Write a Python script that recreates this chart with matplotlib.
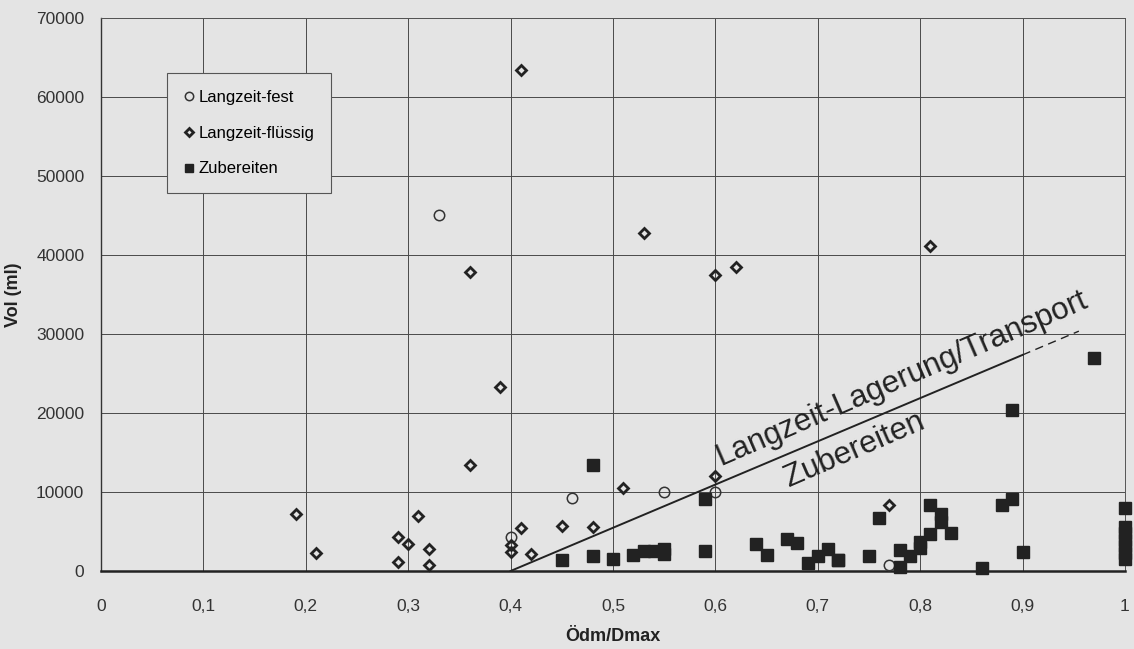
import numpy as np
import matplotlib
matplotlib.use("Agg")
import matplotlib.pyplot as plt

plt.rcParams["font.family"] = ["Liberation Sans", "DejaVu Sans"]

# Langzeit-fest (open circles)
fest_x = [0.33, 0.46, 0.55, 0.60, 0.40, 0.77]
fest_y = [45000, 9300, 10000, 10000, 4300, 700]

# Langzeit-flüssig (diamonds)
fl_x = [0.19, 0.21, 0.29, 0.30, 0.31, 0.29, 0.32, 0.32, 0.36, 0.39, 0.40, 0.40, 0.41, 0.42,
        0.45, 0.48, 0.51, 0.60, 0.41, 0.36, 0.53, 0.60, 0.62, 0.81, 0.77]
fl_y = [7200, 2300, 4300, 3400, 6900, 1100, 2800, 700, 13400, 23300, 3300, 2400, 5500, 2200,
        5700, 5600, 10500, 12000, 63400, 37900, 42800, 37500, 38500, 41100, 8400]

# Zubereiten (filled squares)
zu_x = [0.48, 0.45, 0.48, 0.50, 0.52, 0.53, 0.54, 0.55, 0.55, 0.59, 0.59, 0.64, 0.65, 0.67,
        0.68, 0.69, 0.70, 0.71, 0.72, 0.72, 0.75, 0.76, 0.78, 0.78, 0.79, 0.80, 0.80, 0.81,
        0.81, 0.82, 0.82, 0.83, 0.86, 0.88, 0.89, 0.89, 0.90, 0.97, 1.00, 1.00, 1.00, 1.00,
        1.00, 1.00, 1.00]
zu_y = [13400, 1350, 1900, 1550, 2000, 2550, 2500, 2800, 2200, 9050, 2550, 3450, 2050, 4100,
        3550, 950, 1950, 2800, 1400, 1350, 1950, 6650, 2650, 550, 1900, 3700, 2900, 8300,
        4650, 7200, 6200, 4850, 400, 8300, 9150, 20400, 2350, 27000, 8000, 5600, 4800, 3900,
        3100, 2300, 1500]

# Grenzlinie
line_x = [0.40, 0.90]
line_ext_x = [0.90, 0.955]
slope = 54700

xticks = [0, 0.1, 0.2, 0.3, 0.4, 0.5, 0.6, 0.7, 0.8, 0.9, 1.0]
xticklabels = ["0", "0,1", "0,2", "0,3", "0,4", "0,5", "0,6", "0,7", "0,8", "0,9", "1"]
yticks = [0, 10000, 20000, 30000, 40000, 50000, 60000, 70000]

bg = "#e4e4e4"
fig = plt.figure(figsize=(11.34, 6.49), dpi=100, facecolor=bg)
ax = fig.add_axes([0.0891, 0.1202, 0.9029, 0.8521], facecolor=bg)

ax.set_xlim(0, 1)
ax.set_ylim(0, 70000)
ax.set_xticks(xticks)
ax.set_xticklabels(xticklabels)
ax.set_yticks(yticks)
ax.tick_params(length=0, labelsize=12.5, colors="#333333")
ax.tick_params(axis="x", pad=20)
ax.tick_params(axis="y", pad=12)
ax.grid(True, color="#4a4a4a", linewidth=0.7)
ax.set_axisbelow(True)
for s in ["top", "right"]:
    ax.spines[s].set_color("#555555")
    ax.spines[s].set_linewidth(0.7)
ax.spines["left"].set_color("#333333")
ax.spines["left"].set_linewidth(1.0)
ax.spines["bottom"].set_color("#222222")
ax.spines["bottom"].set_linewidth(1.8)

ax.plot(fest_x, fest_y, "o", ms=7.5, mfc="none", mec="#333333", mew=1.1,
        label="Langzeit-fest", clip_on=False, zorder=3)
ax.plot(fl_x, fl_y, "D", ms=5.5, mfc="none", mec="#222222", mew=2.0,
        label="Langzeit-flüssig", clip_on=False, zorder=3)
ax.plot(zu_x, zu_y, "s", ms=8, mfc="#222222", mec="#222222",
        label="Zubereiten", clip_on=False, zorder=3)

ax.plot(line_x, [slope * (v - 0.4) for v in line_x], color="#222222", lw=1.4, zorder=2)
ax.plot(line_ext_x, [slope * (v - 0.4) for v in line_ext_x], color="#222222", lw=1.0,
        ls=(0, (6, 4)), zorder=2)

ax.text(0.605, 13300, "Langzeit-Lagerung/Transport", rotation=23.4, fontsize=22.5,
        color="#222222", rotation_mode="anchor", ha="left", va="baseline")
ax.text(0.672, 10600, "Zubereiten", rotation=23.4, fontsize=22.5,
        color="#222222", rotation_mode="anchor", ha="left", va="baseline")

ax.set_xlabel("Ödm/Dmax", fontsize=13, fontweight="bold", color="#222222", labelpad=10)
ax.set_ylabel("Vol (ml)", fontsize=13, fontweight="bold", color="#222222", labelpad=10)

leg = ax.legend(loc="upper left", bbox_to_anchor=(0.0645, 0.9005), fontsize=12,
                frameon=True, fancybox=False, facecolor=bg, edgecolor="#555555",
                handlelength=0.6, handletextpad=0.3, labelspacing=1.25,
                borderpad=1.0, markerscale=0.8, borderaxespad=0)
leg.get_frame().set_linewidth(0.8)
leg.get_frame().set_alpha(1)

fig.savefig("out.png", dpi=100, facecolor=bg)
